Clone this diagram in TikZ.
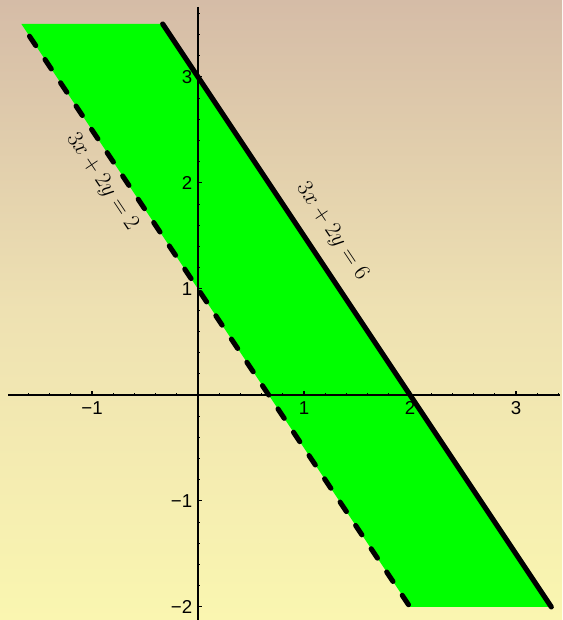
\documentclass[tikz,border=0pt]{standalone}
\usepackage{fontspec}
\setsansfont{Liberation Sans}
\definecolor{bgtop}{RGB}{213,188,167}
\definecolor{bgmid}{RGB}{238,225,178}
\definecolor{bgbot}{RGB}{250,246,176}
\definecolor{band}{RGB}{0,255,0}
\tikzset{
  axisline/.style={line width=1pt,black},
  minortick/.style={line width=0.8pt,black},
  majortick/.style={line width=0.8pt,black},
  ticklabel/.style={font=\sffamily\fontsize{14}{16}\selectfont,inner sep=1pt},
  boundsolid/.style={line width=3.8pt,black,line cap=round},
  bounddash/.style={line width=3.8pt,black,line cap=round,dash pattern=on 8.5pt off 12.5pt,dash phase=10pt},
  linelabel/.style={font=\fontsize{19}{21}\selectfont,rotate=-56.31,inner sep=0pt}
}
\begin{document}
\begin{tikzpicture}[x=79.5pt,y=79.5pt]
\path[use as bounding box,top color=bgtop,bottom color=bgbot,middle color=bgmid] (-1.868,-2.123) rectangle (3.434,3.726);
% band
\coordinate (d1) at (-5/3,3.5);
\coordinate (s1) at (-1/3,3.5);
\coordinate (s2) at (10/3,-2);
\coordinate (d2) at (2,-2);
\fill[band] (d1) -- (s1) -- (s2) -- (d2) -- cycle;
% axes
\coordinate (xl) at (-1.79,0);
\coordinate (xr) at (3.415,0);
\coordinate (yt) at (0,3.66);
\coordinate (yb) at (0,-2.13);
\draw[axisline] (xl) -- (xr);
\draw[axisline] (yt) -- (yb);
\foreach \i in {-8,...,17} \draw[minortick] (\i/5,-0.005) -- ++(0,0.025);
\foreach \i in {-1,...,3} \draw[majortick] (\i,-0.005) -- ++(0,0.045);
\foreach \i in {-10,...,18} \draw[minortick] (-0.005,\i/5) -- ++(0.025,0);
\foreach \i in {-2,...,3} \draw[majortick] (-0.005,\i) -- ++(0.045,0);
% tick labels
\node[ticklabel,anchor=north] (lx1) at (1,-0.045) {1};
\node[ticklabel,anchor=north] (lx2) at (2,-0.045) {2};
\node[ticklabel,anchor=north] (lx3) at (3,-0.045) {3};
\node[ticklabel,anchor=north] (lxm1) at (-1,-0.045) {−1};
\node[ticklabel,anchor=east] (ly1) at (-0.04,1) {1};
\node[ticklabel,anchor=east] (ly2) at (-0.04,2) {2};
\node[ticklabel,anchor=east] (ly3) at (-0.04,3) {3};
\node[ticklabel,anchor=east] (lym1) at (-0.04,-1) {−1};
\node[ticklabel,anchor=east] (lym2) at (-0.04,-2) {−2};
% boundary lines
\draw[bounddash] (d1) -- (d2);
\draw[boundsolid] (s1) -- (s2);
% line labels
\node[linelabel] (lab2) at (-0.906,2.009) {$3x+2y=2$};
\node[linelabel] (lab6) at (1.264,1.538) {$3x+2y=6$};
\end{tikzpicture}
\end{document}
